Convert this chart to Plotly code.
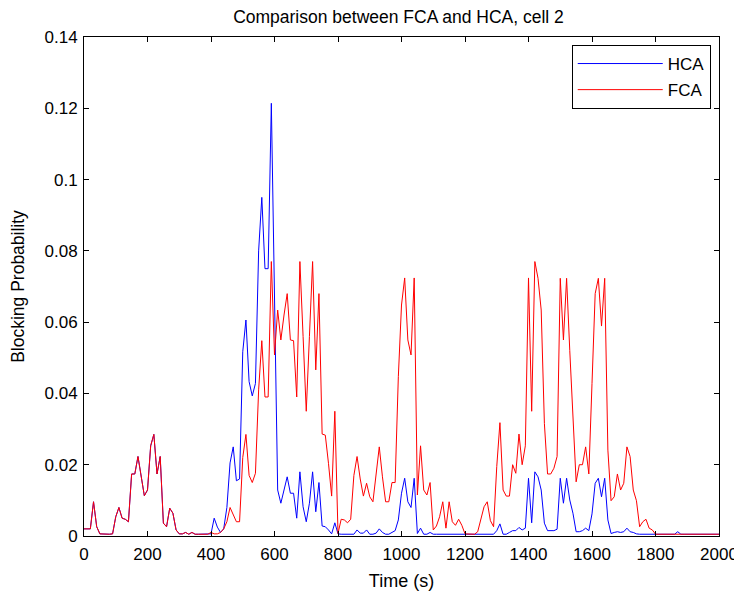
import plotly.graph_objects as go

time_s = list(range(0, 2001, 10))

hca = [
    0.002, 0.002, 0.002, 0.0096, 0.0026, 0.0006, 0.0005, 0.0005, 0.0005, 0.0006,   # 0-90
    0.0054, 0.008, 0.005, 0.0047, 0.004, 0.0174, 0.0174, 0.0223, 0.0166, 0.0113,   # 100-190
    0.0129, 0.0253, 0.0285, 0.0174, 0.0223, 0.0036, 0.0026, 0.0078, 0.0064, 0.0017,  # 200-290
    0.0006, 0.0006, 0.001, 0.0005, 0.001, 0.0005, 0.0005, 0.0005, 0.0005, 0.0006,  # 300-390
    0.0006, 0.005, 0.0025, 0.001, 0.002, 0.008, 0.0205, 0.025, 0.0155, 0.016,      # 400-490
    0.0517, 0.0606, 0.0433, 0.0393, 0.0428, 0.080, 0.095, 0.075, 0.075, 0.1214,    # 500-590
    0.067, 0.0129, 0.0092, 0.013, 0.0166, 0.012, 0.012, 0.005, 0.018, 0.0082,      # 600-690
    0.004, 0.0092, 0.018, 0.0068, 0.015, 0.0028, 0.0026, 0.0017, 0.0006, 0.0037,   # 700-790
    0.0006, 0.0005, 0.0005, 0.0005, 0.0005, 0.0005, 0.0017, 0.0008, 0.0008, 0.0017,  # 800-890
    0.0005, 0.0005, 0.0008, 0.002, 0.001, 0.0005, 0.0005, 0.001, 0.0015, 0.0045,   # 900-990
    0.012, 0.0162, 0.0096, 0.008, 0.0162, 0.0007, 0.0022, 0.0005, 0.0005, 0.001,   # 1000-1090
    0.0005, 0.0005, 0.0005, 0.0005, 0.0005, 0.0005, 0.0005, 0.0005, 0.0005, 0.0005,  # 1100-1190
    0.0005, 0.0005, 0.0005, 0.0005, 0.0005, 0.0005, 0.0005, 0.0005, 0.0005, 0.0005,  # 1200-1290
    0.0015, 0.0034, 0.0005, 0.0005, 0.001, 0.0015, 0.0015, 0.0024, 0.0017, 0.0022,  # 1300-1390
    0.0162, 0.0037, 0.018, 0.0166, 0.0129, 0.0036, 0.0015, 0.0015, 0.0015, 0.0019,  # 1400-1490
    0.0162, 0.0092, 0.0162, 0.0101, 0.0064, 0.0012, 0.0012, 0.0015, 0.0022, 0.0015,  # 1500-1590
    0.0062, 0.0148, 0.0162, 0.011, 0.0162, 0.0045, 0.0007, 0.001, 0.0012, 0.001,   # 1600-1690
    0.0012, 0.0022, 0.0012, 0.001, 0.0006, 0.0005, 0.0005, 0.0005, 0.0005, 0.0005,  # 1700-1790
    0.0005, 0.0005, 0.0005, 0.0005, 0.0005, 0.0005, 0.0005, 0.0012, 0.0005, 0.0005,  # 1800-1890
    0.0005, 0.0005, 0.0005, 0.0005, 0.0005, 0.0005, 0.0005, 0.0005, 0.0005, 0.0005,  # 1900-1990
    0.0005,                                                                          # 2000
]

fca = [
    0.002, 0.002, 0.002, 0.0096, 0.0026, 0.0006, 0.0005, 0.0005, 0.0005, 0.0006,   # 0-90
    0.0054, 0.008, 0.005, 0.0047, 0.004, 0.0174, 0.0174, 0.0223, 0.0166, 0.0113,   # 100-190
    0.0129, 0.0253, 0.0285, 0.0174, 0.0223, 0.0036, 0.0026, 0.0078, 0.0064, 0.0017,  # 200-290
    0.0006, 0.0006, 0.001, 0.0005, 0.001, 0.0005, 0.0005, 0.0005, 0.0005, 0.0005,  # 300-390
    0.001, 0.0006, 0.0006, 0.001, 0.002, 0.004, 0.008, 0.006, 0.004, 0.004,        # 400-490
    0.022, 0.0285, 0.017, 0.015, 0.0176, 0.041, 0.0548, 0.039, 0.039, 0.077,       # 500-590
    0.0508, 0.0634, 0.055, 0.062, 0.068, 0.055, 0.0548, 0.039, 0.077, 0.056,       # 600-690
    0.035, 0.056, 0.077, 0.0466, 0.068, 0.0286, 0.0283, 0.0204, 0.0112, 0.035,     # 700-790
    0.0007, 0.0047, 0.0045, 0.0037, 0.0047, 0.017, 0.0223, 0.016, 0.0112, 0.0148,  # 800-890
    0.011, 0.0096, 0.017, 0.025, 0.0166, 0.0096, 0.0096, 0.015, 0.015, 0.0447,     # 900-990
    0.0648, 0.0724, 0.055, 0.0508, 0.0724, 0.0115, 0.0253, 0.0129, 0.0115, 0.015,  # 1000-1090
    0.0017, 0.0028, 0.0054, 0.0096, 0.0022, 0.0096, 0.004, 0.003, 0.0047, 0.003,   # 1100-1190
    0.0006, 0.0005, 0.0005, 0.0005, 0.0012, 0.0045, 0.0082, 0.0096, 0.0043, 0.0026,  # 1200-1290
    0.0195, 0.0318, 0.0129, 0.0112, 0.0112, 0.02, 0.0176, 0.0286, 0.02, 0.0253,    # 1300-1390
    0.0724, 0.035, 0.077, 0.0723, 0.0634, 0.0316, 0.0174, 0.0174, 0.019, 0.0223,   # 1400-1490
    0.0723, 0.055, 0.0723, 0.052, 0.0335, 0.0152, 0.02, 0.02, 0.025, 0.0174,       # 1500-1590
    0.0428, 0.068, 0.0723, 0.0589, 0.0723, 0.0241, 0.0099, 0.011, 0.0174, 0.0129,  # 1600-1690
    0.0148, 0.025, 0.0223, 0.0129, 0.0099, 0.0026, 0.004, 0.0047, 0.0022, 0.0017,  # 1700-1790
    0.0005, 0.0005, 0.0005, 0.0005, 0.0005, 0.0005, 0.0005, 0.0005, 0.0005, 0.0005,  # 1800-1890
    0.0005, 0.0005, 0.0005, 0.0005, 0.0005, 0.0005, 0.0005, 0.0005, 0.0005, 0.0005,  # 1900-1990
    0.0005,                                                                          # 2000
]

x_ticks = [0, 200, 400, 600, 800, 1000, 1200, 1400, 1600, 1800, 2000]
y_ticks = [0, 0.02, 0.04, 0.06, 0.08, 0.1, 0.12, 0.14]
y_tick_labels = ["0", "0.02", "0.04", "0.06", "0.08", "0.1", "0.12", "0.14"]

fig = go.Figure()
fig.add_trace(go.Scatter(x=time_s, y=hca, mode="lines", name="HCA", legendgroup="hca",
                         line=dict(color="#0000FF", width=1)))
fig.add_trace(go.Scatter(x=time_s, y=fca, mode="lines", name="FCA", legendgroup="fca",
                         line=dict(color="#FF0000", width=1)))

font_family = "Liberation Sans, Arial, sans-serif"
axis_common = dict(showline=True, linecolor="black", linewidth=1, mirror="ticks",
                   ticks="inside", ticklen=5, tickcolor="black", showgrid=False,
                   zeroline=False, ticklabeloverflow="allow", automargin=False,
                   tickfont=dict(size=17, color="black", family=font_family))

fig.update_layout(
    width=734, height=584,
    margin=dict(l=76, r=23, t=29, b=56),
    paper_bgcolor="white", plot_bgcolor="white",
    font=dict(family=font_family, color="black"),
    title=dict(text="Comparison between FCA and HCA, cell 2", x=0.532, xanchor="center",
               yref="container", y=0.995, yanchor="top", pad=dict(t=0, b=0),
               font=dict(size=17.5, color="black")),
    xaxis=dict(range=[0, 2000], tickvals=x_ticks, ticklabelstandoff=3,
               title=dict(text="Time (s)", font=dict(size=18), standoff=10), **axis_common),
    yaxis=dict(range=[0, 0.14], tickvals=y_ticks, ticktext=y_tick_labels, ticklabelstandoff=2,
               title=dict(text="Blocking Probability", font=dict(size=17.5), standoff=15), **axis_common),
    legend=dict(x=0.987, y=0.984, xanchor="right", yanchor="top", bgcolor="white",
                bordercolor="black", borderwidth=1, font=dict(size=17, color="black"),
                tracegroupgap=1, itemwidth=85),
    showlegend=True,
)

fig.write_html("out.html")
